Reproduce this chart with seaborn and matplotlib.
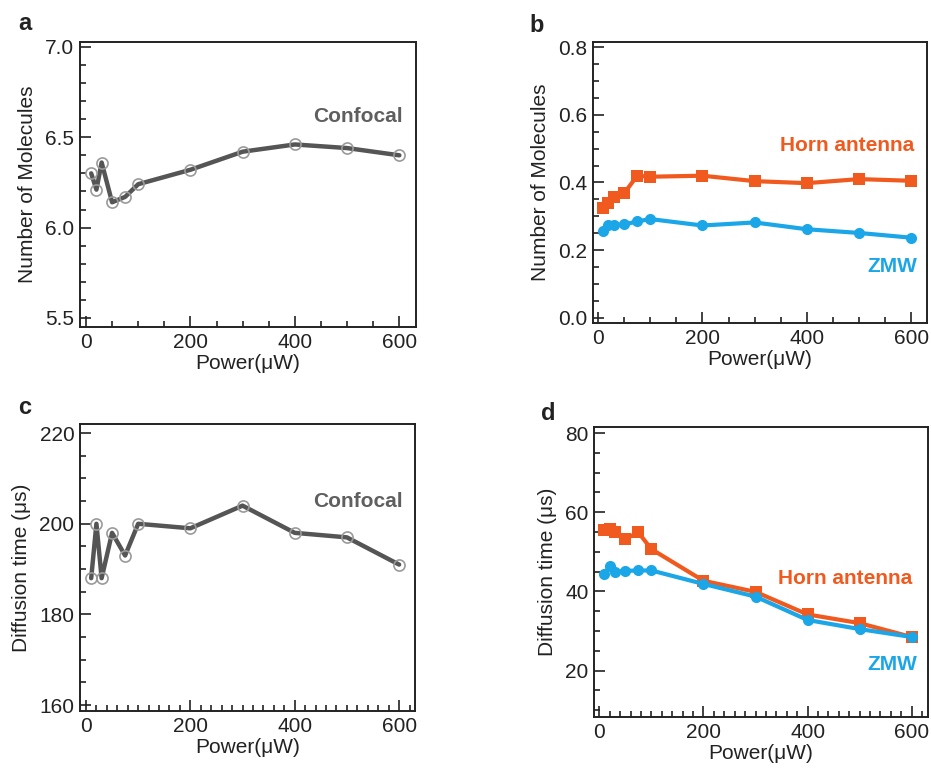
import matplotlib
matplotlib.use("Agg")
import matplotlib.pyplot as plt
import pandas as pd
import seaborn as sns
from matplotlib.ticker import MultipleLocator, FormatStrFormatter

# power values (µW) shared by every series
power = [10, 20, 30, 50, 75, 100, 200, 300, 400, 500, 600]

# a: confocal number of molecules
confocal_n = [6.30, 6.21, 6.36, 6.14, 6.17, 6.24, 6.32, 6.42, 6.46, 6.44, 6.40]
# b: horn antenna / ZMW number of molecules
horn_n = [0.325, 0.340, 0.358, 0.368, 0.420, 0.417, 0.420, 0.404, 0.398, 0.410, 0.405]
zmw_n = [0.256, 0.273, 0.275, 0.276, 0.285, 0.292, 0.273, 0.282, 0.262, 0.251, 0.237]
# c: confocal diffusion time (µs)
confocal_t = [188, 200, 188, 198, 193, 200, 199, 204, 198, 197, 191]
# d: horn antenna / ZMW diffusion time (µs)
horn_t = [55.6, 55.8, 54.9, 53.3, 54.9, 50.7, 42.7, 39.9, 34.2, 32.0, 28.5]
zmw_t = [44.5, 46.5, 45.0, 45.2, 45.3, 45.3, 41.9, 38.7, 32.8, 30.5, 28.5]

GREY = "#555555"
ORANGE = "#F05A1E"
BLUE = "#1BA6E8"

sns.set_theme(style="ticks")
plt.rcParams["font.family"] = ["Liberation Sans", "DejaVu Sans"]
plt.rcParams["axes.edgecolor"] = "#222222"
plt.rcParams["axes.linewidth"] = 1.4

fig = plt.figure(figsize=(9.31, 7.69), dpi=100)
fig.patch.set_facecolor("white")


def style_axes(ax, xlim, ylim, ymajor, yminor, xminor, yfmt, ylabel):
    ax.set_xlim(*xlim)
    ax.set_ylim(*ylim)
    ax.xaxis.set_major_locator(MultipleLocator(200))
    ax.xaxis.set_minor_locator(MultipleLocator(xminor))
    ax.yaxis.set_major_locator(MultipleLocator(ymajor))
    ax.yaxis.set_minor_locator(MultipleLocator(yminor))
    ax.yaxis.set_major_formatter(FormatStrFormatter(yfmt))
    ax.tick_params(which="both", direction="in", top=False, right=False,
                   colors="#222222", labelcolor="#222222", width=1.2)
    ax.tick_params(which="major", length=8, labelsize=15, pad=4)
    ax.tick_params(which="minor", length=4.5)
    ax.set_xlabel("Power(μW)", fontsize=15, labelpad=2, color="#222222")
    ax.set_ylabel(ylabel, fontsize=15, labelpad=6, color="#222222")
    for s in ax.spines.values():
        s.set_visible(True)
        s.set_linewidth(1.4)


def confocal_plot(ax, yvals):
    df = pd.DataFrame({"power": power, "value": yvals})
    sns.lineplot(data=df, x="power", y="value", ax=ax, color=GREY, lw=3.2,
                 marker="o", markersize=8, markerfacecolor="none",
                 markeredgecolor="#9a9a9a", markeredgewidth=1.2, legend=False)


def pair_plot(ax, horn, zmw):
    df = pd.DataFrame({
        "power": power * 2,
        "value": horn + zmw,
        "probe": ["Horn antenna"] * len(power) + ["ZMW"] * len(power),
    })
    sns.lineplot(data=df[df.probe == "Horn antenna"], x="power", y="value", ax=ax,
                 color=ORANGE, lw=3, marker="s", markersize=8,
                 markeredgecolor=ORANGE, markeredgewidth=0, legend=False)
    sns.lineplot(data=df[df.probe == "ZMW"], x="power", y="value", ax=ax,
                 color=BLUE, lw=3, marker="o", markersize=8,
                 markeredgecolor=BLUE, markeredgewidth=0, legend=False)


# a
ax_a = fig.add_axes([0.0859, 0.5748, 0.361, 0.3706])
confocal_plot(ax_a, confocal_n)
style_axes(ax_a, (-11.5, 632), (5.45, 7.027), 0.5, 0.1, 50, "%.1f", "Number of Molecules")
ax_a.text(607, 6.615, "Confocal", ha="right", va="center", fontsize=15,
          fontweight="bold", color="#5f5f5f")

# b
ax_b = fig.add_axes([0.637, 0.580, 0.3588, 0.3654])
pair_plot(ax_b, horn_n, zmw_n)
style_axes(ax_b, (-9.6, 630.6), (-0.0148, 0.8148), 0.2, 0.05, 50, "%.1f", "Number of Molecules")
ax_b.text(606, 0.51, "Horn antenna", ha="right", va="center", fontsize=15,
          fontweight="bold", color=ORANGE)
ax_b.text(612, 0.153, "ZMW", ha="right", va="center", fontsize=15,
          fontweight="bold", color=BLUE)

# c
ax_c = fig.add_axes([0.0859, 0.0754, 0.360, 0.3732])
confocal_plot(ax_c, confocal_t)
style_axes(ax_c, (-11.5, 630.7), (158.7, 222), 20, 5, 20, "%d", "Diffusion time (μs)")
ax_c.text(607, 204.9, "Confocal", ha="right", va="center", fontsize=15,
          fontweight="bold", color="#5f5f5f")

# d
ax_d = fig.add_axes([0.638, 0.0676, 0.3588, 0.377])
pair_plot(ax_d, horn_t, zmw_t)
style_axes(ax_d, (-10.2, 631.3), (8.3, 81.5), 20, 5, 20, "%d", "Diffusion time (μs)")
ax_d.text(600.5, 43.3, "Horn antenna", ha="right", va="center", fontsize=15,
          fontweight="bold", color=ORANGE)
ax_d.text(610, 21.5, "ZMW", ha="right", va="center", fontsize=15,
          fontweight="bold", color=BLUE)

# panel letters
for letter, (px, py) in {"a": (25, 23), "b": (537, 25), "c": (25, 407), "d": (548, 413)}.items():
    fig.text(px / 931, 1 - py / 769, letter, ha="center", va="center",
             fontsize=17, fontweight="bold", color="#222222")

fig.savefig("out.png", dpi=100, facecolor="white")
